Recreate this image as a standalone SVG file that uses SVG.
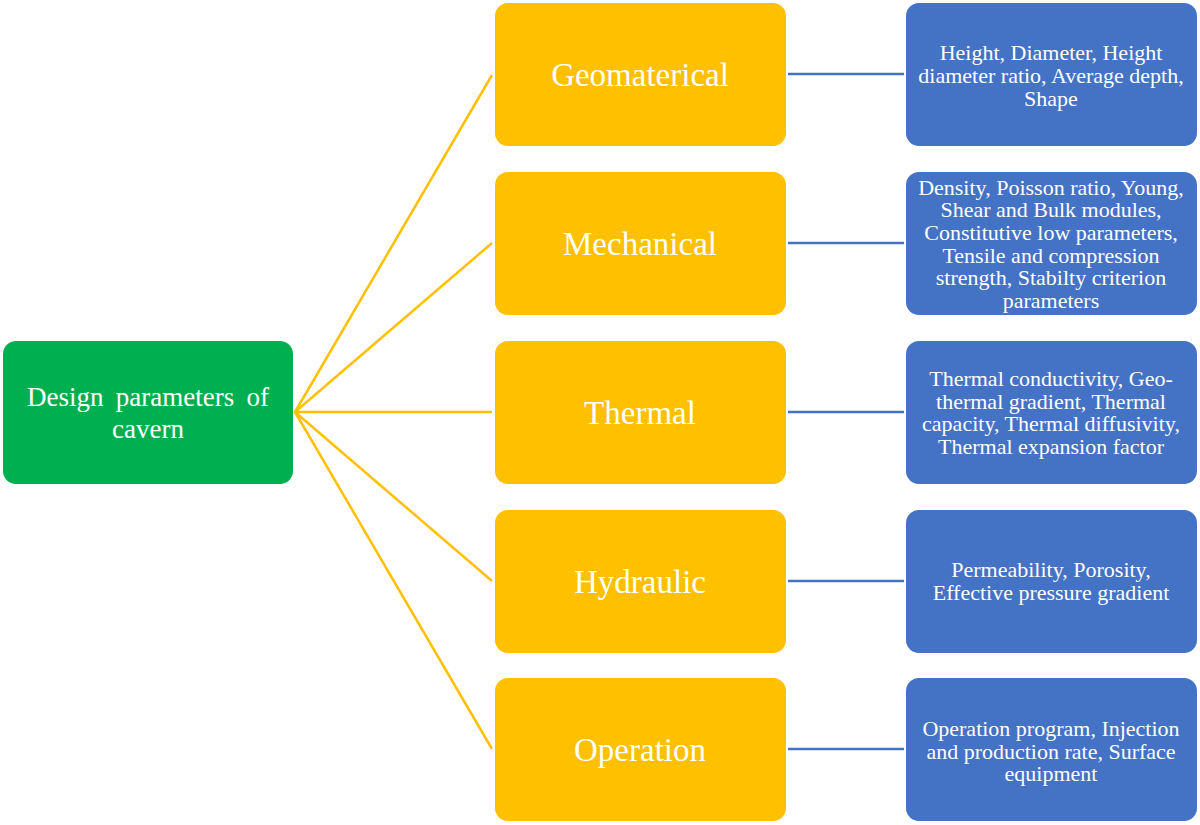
<svg xmlns="http://www.w3.org/2000/svg" width="1200" height="825" viewBox="0 0 1200 825">
<style>
.root{fill:#00B050}
.cat{fill:#FFC000}
.det{fill:#4472C4}
text{font-family:"Liberation Serif","Times New Roman",serif;fill:#fff;text-anchor:middle}
.t1{font-size:27px}
.t2{font-size:33px}
.t3{font-size:22px}
.yl{stroke:#FFC000;stroke-width:2.5;fill:none}
.bl{stroke:#4472C4;stroke-width:2.5;fill:none}
</style>
<rect width="1200" height="825" fill="#fff"/>
<g id="connectors">
<line class="yl" x1="295" y1="412" x2="492" y2="75"/>
<line class="yl" x1="295" y1="412" x2="492" y2="243"/>
<line class="yl" x1="295" y1="412" x2="492" y2="412"/>
<line class="yl" x1="295" y1="412" x2="492" y2="581"/>
<line class="yl" x1="295" y1="412" x2="492" y2="749"/>
<line class="bl" x1="788" y1="74" x2="904" y2="74"/>
<line class="bl" x1="788" y1="243" x2="904" y2="243"/>
<line class="bl" x1="788" y1="412" x2="904" y2="412"/>
<line class="bl" x1="788" y1="581" x2="904" y2="581"/>
<line class="bl" x1="788" y1="749" x2="904" y2="749"/>
</g>
<g id="root">
<rect class="root" x="3" y="341" width="290" height="143" rx="13"/>
<text class="t1" x="148" y="406" word-spacing="5.5">Design parameters of</text>
<text class="t1" x="148" y="438">cavern</text>
</g>
<g id="geomaterical">
<rect class="cat" x="495" y="3" width="291" height="143" rx="13"/>
<text class="t2" x="640" y="86">Geomaterical</text>
</g>
<g id="mechanical">
<rect class="cat" x="495" y="172" width="291" height="143" rx="13"/>
<text class="t2" x="640" y="255">Mechanical</text>
</g>
<g id="thermal">
<rect class="cat" x="495" y="341" width="291" height="143" rx="13"/>
<text class="t2" x="640" y="424">Thermal</text>
</g>
<g id="hydraulic">
<rect class="cat" x="495" y="510" width="291" height="143" rx="13"/>
<text class="t2" x="640" y="593">Hydraulic</text>
</g>
<g id="operation">
<rect class="cat" x="495" y="678" width="291" height="143" rx="13"/>
<text class="t2" x="640" y="761">Operation</text>
</g>
<g id="geomaterical-details">
<rect class="det" x="906" y="3" width="291" height="143" rx="13"/>
<text class="t3" x="1051" y="60">Height, Diameter, Height</text>
<text class="t3" x="1051" y="83">diameter ratio, Average depth,</text>
<text class="t3" x="1051" y="106">Shape</text>
</g>
<g id="mechanical-details">
<rect class="det" x="906" y="172" width="291" height="143" rx="13"/>
<text class="t3" x="1051" y="195">Density, Poisson ratio, Young,</text>
<text class="t3" x="1051" y="217">Shear and Bulk modules,</text>
<text class="t3" x="1051" y="240">Constitutive low parameters,</text>
<text class="t3" x="1051" y="263">Tensile and compression</text>
<text class="t3" x="1051" y="285">strength, Stabilty criterion</text>
<text class="t3" x="1051" y="308">parameters</text>
</g>
<g id="thermal-details">
<rect class="det" x="906" y="341" width="291" height="143" rx="13"/>
<text class="t3" x="1051" y="386">Thermal conductivity, Geo-</text>
<text class="t3" x="1051" y="409">thermal gradient, Thermal</text>
<text class="t3" x="1051" y="431">capacity, Thermal diffusivity,</text>
<text class="t3" x="1051" y="454">Thermal expansion factor</text>
</g>
<g id="hydraulic-details">
<rect class="det" x="906" y="510" width="291" height="143" rx="13"/>
<text class="t3" x="1051" y="577">Permeability, Porosity,</text>
<text class="t3" x="1051" y="600">Effective pressure gradient</text>
</g>
<g id="operation-details">
<rect class="det" x="906" y="678" width="291" height="143" rx="13"/>
<text class="t3" x="1051" y="736">Operation program, Injection</text>
<text class="t3" x="1051" y="759">and production rate, Surface</text>
<text class="t3" x="1051" y="781">equipment</text>
</g>
</svg>
